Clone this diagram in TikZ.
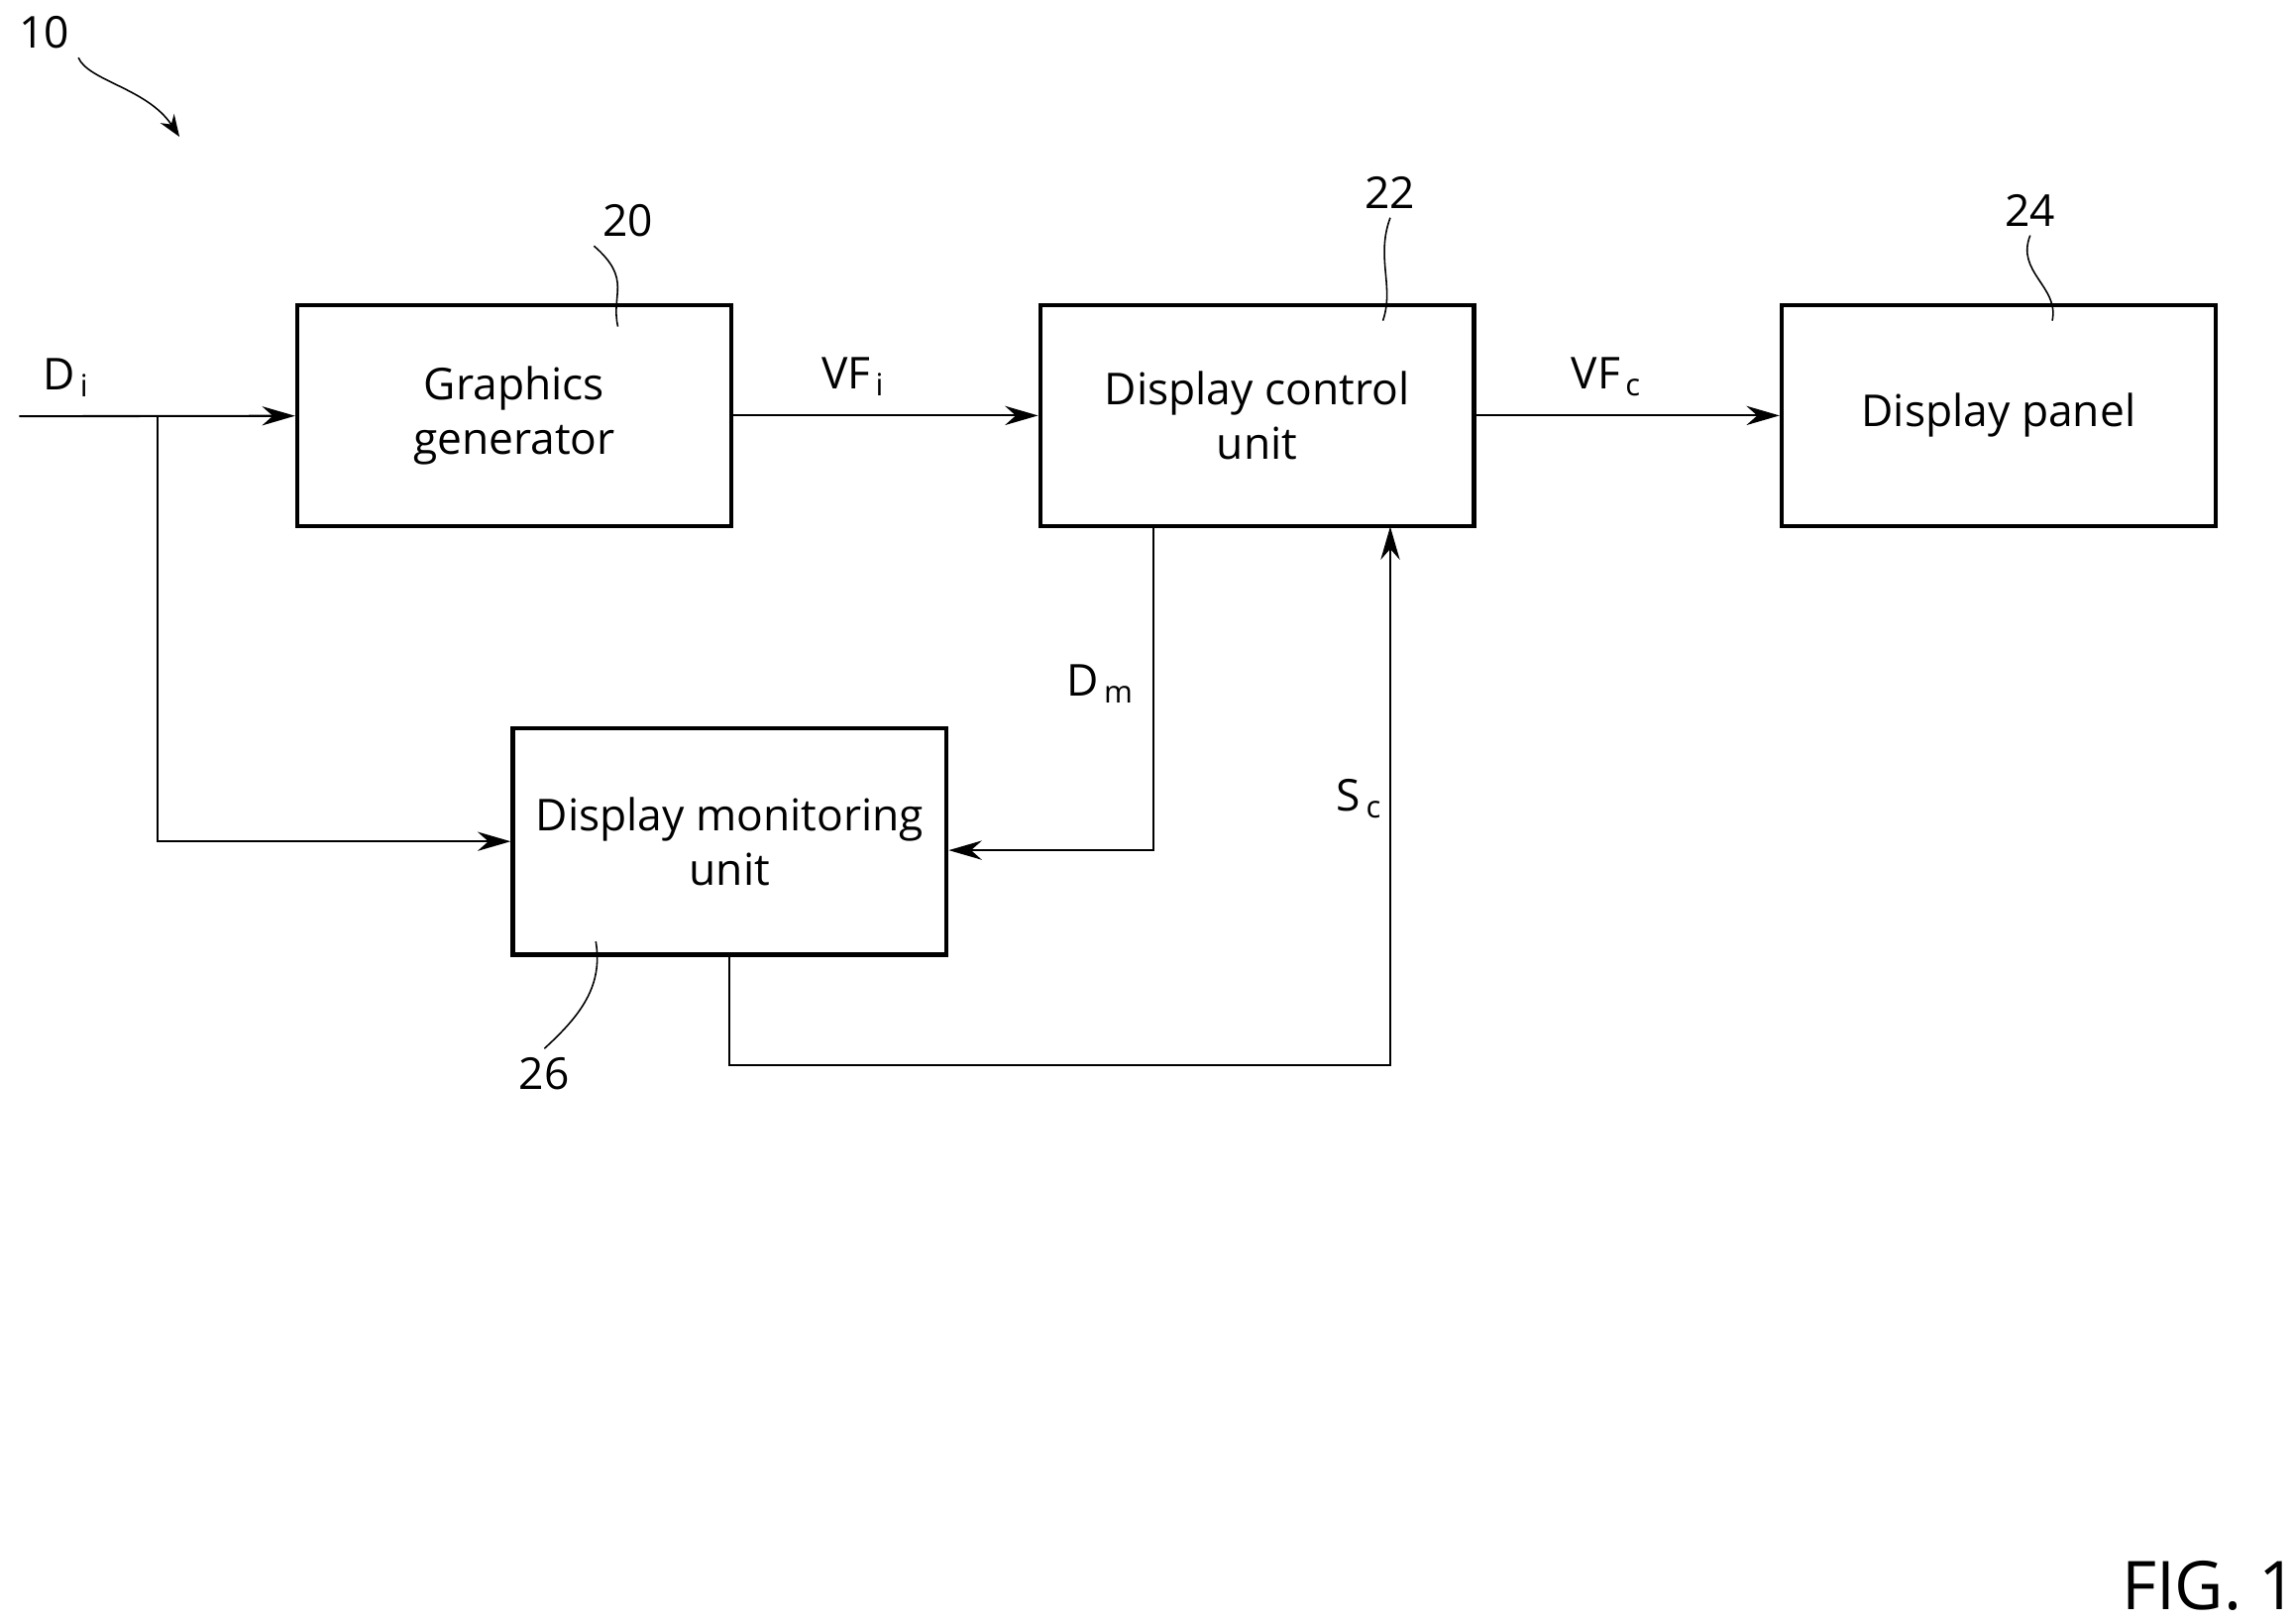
\documentclass[tikz,border=0pt]{standalone}
\usepackage{fontspec}
\setmainfont{Open Sans}
\usetikzlibrary{positioning, arrows.meta}

\tikzset{
	block/.style={draw, line width=1.6pt, minimum width=5.9cm, minimum height=3.0cm, align=center, font=\fontsize{17}{21}\selectfont},
	sig/.style={-{Stealth[length=4.5mm, width=2.6mm]}, line width=0.8pt},
	lbl/.style={font=\fontsize{17}{21}\selectfont},
	refnum/.style={font=\fontsize{17}{21}\selectfont},
	squig/.style={line width=0.6pt}
}

\begin{document}
\begin{tikzpicture}[x=0.02cm, y=-0.02cm]
	\useasboundingbox (0,0) rectangle (1560,1104);

	\node[block] (gen) at (349.5,282.5) {Graphics\\generator};
	\node[block] (dcu) at (854.5,282.5) {Display control\\unit};
	\node[block] (panel) at (1358.5,282.5) {Display panel};
	\node[block, minimum height=3.08cm] (dmu) at (496,572) {Display monitoring\\unit};

	\coordinate (in) at (13,283);
	\coordinate (split) at (107,283);
	\coordinate (split low) at (107,572);
	\coordinate (dm top) at (784,358);
	\coordinate (dm turn) at (784,578);
	\coordinate (sc start) at (496,649);
	\coordinate (sc low) at (496,724);
	\coordinate (sc turn) at (945,724);
	\coordinate (sc end) at (945,358);

	\draw[sig] (in) -- (gen);
	\draw[sig] (split) -- (split low) -- (dmu.west |- split low);
	\draw[sig] (gen) -- (dcu);
	\draw[sig] (dcu) -- (panel);
	\draw[sig] (dm top) -- (dm turn) -- (dmu.east |- dm turn);
	\draw[sig] (sc start) -- (sc low) -- (sc turn) -- (sc end);

	\node[lbl] (di) at (45,257) {D\textsubscript{\,i}};
	\node[lbl] (vfi) at (580,256) {VF\textsubscript{\,i}};
	\node[lbl] (vfc) at (1092,256) {VF\textsubscript{\,c}};
	\node[lbl] (dm) at (748,465) {D\textsubscript{\,m}};
	\node[lbl] (sc) at (924,543) {S\textsubscript{\,c}};

	% reference numerals
	\node[refnum] (n10) at (30,22) {10};
	\node[refnum] (n20) at (427,150) {20};
	\node[refnum] (n22) at (945,131) {22};
	\node[refnum] (n24) at (1380,143) {24};
	\node[refnum] (n26) at (370,730) {26};
	\node[font=\fontsize{26}{30}\selectfont] (fig) at (1502,1078) {FIG. 1};

	\draw[squig, -{Stealth[length=3mm]}] (n10.south east) .. controls (60,55) and (100,60) .. (122,93);
	\draw[squig] (n20.south west) .. controls (430,190) and (415,200) .. (420,222);
	\draw[squig] (n22.south) .. controls (935,175) and (948,195) .. (940,218);
	\draw[squig] (n24.south) .. controls (1370,185) and (1400,195) .. (1395,218);
	\draw[squig] (n26.north) .. controls (395,690) and (410,670) .. (405,640);
\end{tikzpicture}
\end{document}
